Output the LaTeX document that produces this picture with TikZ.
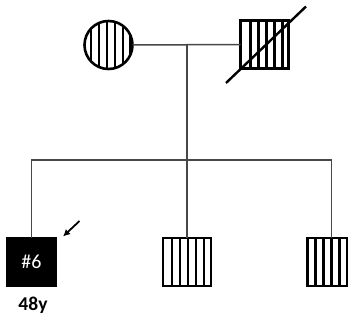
\documentclass[tikz,border=0pt]{standalone}
\usepackage{fontspec}
\setmainfont{Carlito}
\usetikzlibrary{calc,arrows.meta}

\tikzset{
  member/.style={draw=black, line width=2.6pt, inner sep=0pt, outer sep=0pt},
  striped/.style={member, path picture={
      \foreach \k in {#1}
        \draw[line width=2.3pt]
          ([xshift=\k pt]path picture bounding box.north west) --
          ([xshift=\k pt]path picture bounding box.south west);}},
  male/.style={rectangle, minimum size=48pt},
  female/.style={circle, minimum size=48pt},
  conn/.style={draw=black!72, line width=1.5pt},
  deceased/.style={draw=black, line width=2.4pt},
  pointer/.style={draw=black, line width=1.8pt, -{Latex[length=7pt,width=7pt]}},
}

\begin{document}
\begin{tikzpicture}[x=1pt, y=-1pt]
  \useasboundingbox (0,0) rectangle (348,320);
  \clip (0,0) rectangle (348,320);

  % parents
  \node[female, striped={6.5,14.5,22.5,30.5,38.5,46}] (mother) at (108.5,45) {};
  \node[male, striped={10,18,26,34,42}] (father) at (264.5,44.5) {};
  \draw[deceased] ($(father.center)+(-38.5,38.5)$) -- ($(father.center)+(41.5,-38)$);

  % children
  \node[male, member, fill=black, text=white] (proband) at (31.5,262)
    {\fontsize{20}{24}\selectfont\#6};
  \node[male, striped={9,17,25,33,41}] (c2) at (187,262) {};
  \node[male, striped={8,16,24,32,40}] (c3) at (331.5,262) {};

  % connectors
  \coordinate (mid) at (187,44.5);
  \coordinate (sib) at (187,160);
  \draw[conn] (mother.east) -- (father.west);
  \draw[conn] (mid) -- (sib);
  \draw[conn] (proband.north) |- (sib) -| (c3.north);
  \draw[conn] (sib) -- (c2.north);

  % proband marker and age
  \draw[pointer] ($(proband.north east)+(24,-17)$) -- ($(proband.north east)+(7.5,-1.5)$);
  \node[font=\bfseries\fontsize{19.5}{22}\selectfont, anchor=base] (age) at (33,311) {48y};
\end{tikzpicture}
\end{document}
